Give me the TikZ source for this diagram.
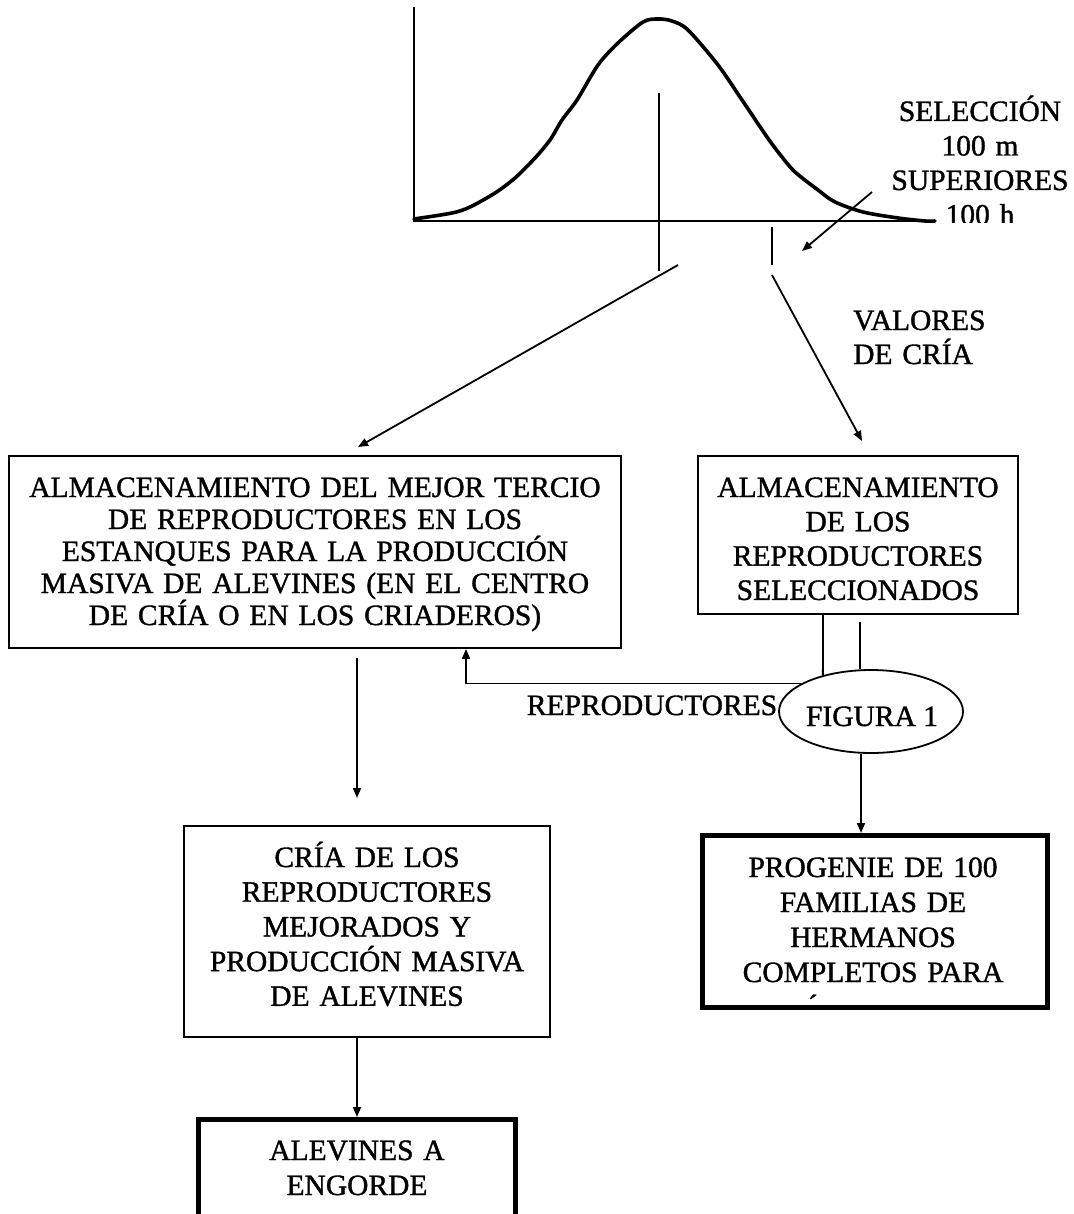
\documentclass[tikz,border=0pt]{standalone}
\usepackage{fontspec}
\setmainfont{Liberation Serif}[FakeBold=1.2]
\usetikzlibrary{arrows.meta,shapes.geometric}
\begin{document}
\begin{tikzpicture}[x=1pt,y=-1pt,
  box/.style={draw,line width=1.8pt,inner sep=0pt},
  thickbox/.style={draw,line width=5pt,inner sep=0pt},
  txt/.style={font=\fontsize{29.5}{34}\selectfont,inner sep=0pt,align=center,anchor=base},
  ln/.style={line width=1.8pt},
  arr/.style={line width=1.8pt,-{Triangle[length=10pt,width=8pt]}},
  curve/.style={line width=3.6pt,line join=round,line cap=round}]
\useasboundingbox (0,0) rectangle (1073,1214);
\fill[white] (0,0) rectangle (1073,1214);
\clip (0,0) rectangle (1073,1214);

% --- distribution graph ---
\coordinate (origin) at (414,221);
\coordinate (ytop) at (414,7);
\coordinate (xend) at (935,221);
\draw[ln] (ytop) -- (origin) -- (xend);
\draw[curve] plot[smooth,tension=0.5] coordinates {
 (414,219) (452,213) (470,207) (495,193) (515,178) (535,158)
 (550,140) (562,120) (577,100) (598,65) (618,43) (643,22) (658,19)
 (672,21) (688,30) (718,65) (742,100) (767,137) (782,157) (795,172)
 (818,190) (835,202) (863,212) (898,218) (925,221) (935,221)};
\coordinate (meanTop) at (659,93);
\coordinate (meanBot) at (659,271);
\draw[ln] (meanTop) -- (meanBot);
\coordinate (tickTop) at (772,227);
\coordinate (tickBot) at (772,265);
\draw[ln] (tickTop) -- (tickBot);

% --- labels on the right of the graph ---
\begin{scope}
\clip (850,80) rectangle (1073,223);
\node[txt,font=\fontsize{29.5}{34.5}\selectfont,text width=200pt] (selT) at (980,121)
  {SELECCIÓN\\100 m\\SUPERIORES\\100 h};
\end{scope}
\coordinate (selA1) at (872,192);
\coordinate (selA2) at (802,251);
\draw[arr] (selA1) -- (selA2);

\node[txt,align=left,text width=160pt,anchor=base west,font=\fontsize{29.5}{34}\selectfont] (valT) at (853,330)
  {VALORES\\DE CRÍA};

% --- boxes ---
\node[box,minimum width=612pt,minimum height=192pt] (store) at (315,552) {};
\node[txt,text width=620pt,font=\fontsize{29.5}{32}\selectfont] (storeT) at (315,497)
  {ALMACENAMIENTO DEL MEJOR TERCIO\\DE REPRODUCTORES EN LOS\\ESTANQUES PARA LA PRODUCCIÓN\\MASIVA DE ALEVINES (EN EL CENTRO\\DE CRÍA O EN LOS CRIADEROS)};

\node[box,minimum width=320pt,minimum height=158pt] (sel) at (858,535) {};
\node[txt,text width=330pt,font=\fontsize{29.5}{34.3}\selectfont] (selBT) at (858,497)
  {ALMACENAMIENTO\\DE LOS\\REPRODUCTORES\\SELECCIONADOS};

\node[box,minimum width=366pt,minimum height=211pt] (cria) at (367,931.5) {};
\node[txt,text width=370pt,font=\fontsize{29.5}{34.7}\selectfont] (criaT) at (367,867)
  {CRÍA DE LOS\\REPRODUCTORES\\MEJORADOS Y\\PRODUCCIÓN MASIVA\\DE ALEVINES};

\node[thickbox,minimum width=317pt,minimum height=150pt] (final) at (357,1194.5) {};
\node[txt,text width=320pt,font=\fontsize{29.5}{35}\selectfont] (finalT) at (357,1160)
  {ALEVINES A\\ENGORDE};

\node[thickbox,minimum width=345pt,minimum height=172pt] (prog) at (875,921.5) {};
\node[txt,text width=340pt,font=\fontsize{29.5}{35}\selectfont] (progT) at (873,877)
  {PROGENIE DE 100\\FAMILIAS DE\\HERMANOS\\COMPLETOS PARA};
\node[txt] (progAcc) at (813,1015) {´};

% --- ellipse ---
\node[box,ellipse,minimum width=184pt,minimum height=83pt] (fig) at (871,711.5) {};
\node[txt] (figT) at (872,726) {FIGURA 1};
\node[txt] (repT) at (652,715) {REPRODUCTORES};

% --- connectors ---
\coordinate (lA1) at (678,265);
\coordinate (lA2) at (358,447);
\draw[arr] (lA1) -- (lA2);
\coordinate (rA1) at (772,275);
\coordinate (rA2) at (862,441);
\draw[arr] (rA1) -- (rA2);

\draw[ln] (sel.south -| 823,0) -- (fig.143.2);
\coordinate (v2) at (860,622);
\draw[ln] (v2) -- (fig.north -| v2);
\draw[arr] (fig.158.3) -| (store.south -| 466,0);
\draw[arr] (fig.south -| 861,0) -- (prog.north -| 861,0);

\coordinate (d1) at (357,658);
\coordinate (d2) at (357,798);
\draw[arr] (d1) -- (d2);
\draw[arr] (cria.south -| 357,0) -- (final.north -| 357,0);
\end{tikzpicture}
\end{document}
